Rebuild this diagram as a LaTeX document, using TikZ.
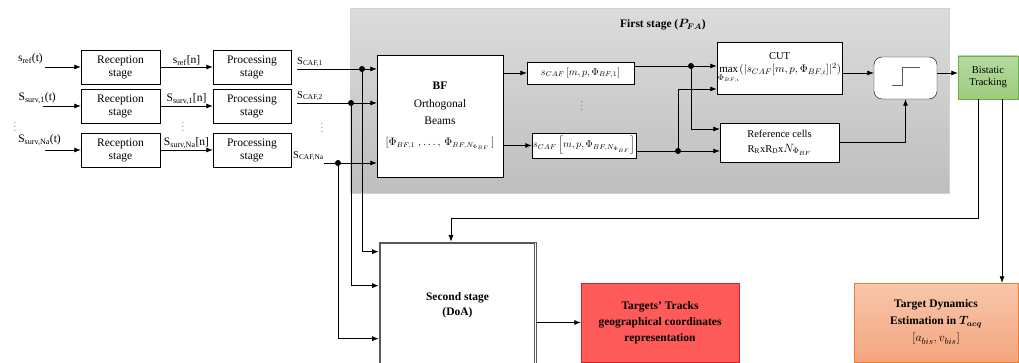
\documentclass[tikz,border=0pt]{standalone}
\usepackage{fontspec}
\setmainfont{Liberation Serif}
\usepackage{amsmath,amssymb}
\usepackage{tikz}
\usetikzlibrary{arrows.meta, positioning, fit, shapes.geometric}

\definecolor{stagetop}{RGB}{220,220,220}
\definecolor{stagebot}{RGB}{190,190,190}
\definecolor{tracktop}{RGB}{183,218,160}
\definecolor{trackbot}{RGB}{156,204,124}
\definecolor{trackedge}{RGB}{112,173,71}
\definecolor{tgtred}{RGB}{255,90,90}
\definecolor{tgtedge}{RGB}{205,35,35}
\definecolor{dyntop}{RGB}{248,198,172}
\definecolor{dynbot}{RGB}{244,166,126}
\definecolor{dynedge}{RGB}{237,125,49}

\begin{document}
\begin{tikzpicture}[x=1pt, y=-1pt,
  box/.style={draw, fill=white, minimum width=79pt, minimum height=34pt,
              align=center, inner sep=1pt, font=\fontsize{11.5}{13}\selectfont},
  smallbox/.style={box, font=\fontsize{10.5}{12}\selectfont},
  arrow/.style={-{Latex[length=6.5pt,width=5pt]}, line width=0.7pt},
  link/.style={line width=0.7pt},
  dot/.style={circle, fill, inner sep=0pt, minimum size=6pt},
  lbl/.style={inner sep=0pt, font=\fontsize{11.5}{13}\selectfont},
  caf/.style={inner sep=0pt, font=\fontsize{10.5}{12}\selectfont},
  vdot/.style={inner sep=0pt, font=\fontsize{7}{8}\selectfont}
]
  \useasboundingbox (0,0) rectangle (1019,363);
  \clip (0,0) rectangle (1019,363);

  % first stage background
  \node[draw=gray!35, top color=stagetop, bottom color=stagebot,
        minimum width=599pt, minimum height=185pt, anchor=north west] (stage1) at (350,8) {};
  \node[font=\bfseries\fontsize{11.5}{13}\selectfont] (title) at (663,25)
        {First stage ($\boldsymbol{P_{FA}}$)};

  % reception and processing
  \node[box] (rec1) at (120.5,67) {Reception\\stage};
  \node[box] (rec2) at (120.5,106) {Reception\\stage};
  \node[box] (rec3) at (120.5,150) {Reception\\stage};
  \node[box, minimum width=78pt] (proc1) at (252,67) {Processing\\stage};
  \node[box, minimum width=78pt] (proc2) at (252,106) {Processing\\stage};
  \node[box, minimum width=78pt] (proc3) at (252,150) {Processing\\stage};

  % inputs
  \node[lbl, anchor=east] (sref) at (43,59) {s\textsubscript{ref}(t)};
  \node[lbl, anchor=east] (ssurv1) at (56,98) {S\textsubscript{surv,1}(t)};
  \node[lbl, anchor=east] (ssurvn) at (61,140) {S\textsubscript{surv,Na}(t)};
  \node[vdot] (d1) at (15,124) {$\vdots$};
  \coordinate (in1) at (45,67);
  \coordinate (in2) at (43,106);
  \coordinate (in3) at (45,150);
  \draw[arrow] (in1) -- (rec1);
  \draw[arrow] (in2) -- (rec2);
  \draw[arrow] (in3) -- (rec3);

  \draw[arrow] (rec1) -- (proc1) node[midway, above=1pt, lbl] {s\textsubscript{ref}[n]};
  \draw[arrow] (rec2) -- (proc2) node[midway, above=1pt, lbl] {S\textsubscript{surv,1}[n]};
  \draw[arrow] (rec3) -- (proc3) node[midway, above=1pt, lbl] {S\textsubscript{surv,Na}[n]};
  \node[vdot] (d2) at (183,124) {$\vdots$};

  % CAF outputs
  \node[caf, anchor=south west] (caf1) at (297,67) {S\textsubscript{CAF,1}};
  \node[caf, anchor=south west] (caf2) at (297,101) {S\textsubscript{CAF,2}};
  \node[caf, anchor=south west] (cafn) at (293,161) {S\textsubscript{CAF,Na}};
  \node[vdot] (d3) at (322,125) {$\vdots$};

  % beamforming
  \node[box, minimum width=126pt, minimum height=122pt] (bf) at (440,116)
        {\textbf{BF}\\[5pt] Orthogonal\\[4pt] Beams\\[8pt]
         {\fontsize{10.5}{12}\selectfont$[\Phi_{BF,1}\;, \dots ,\,\Phi_{BF,N_{\Phi_{BF}}}\,]$}};

  \node[dot] (j1) at (362,69) {};
  \node[dot] (j2) at (351,103) {};
  \node[dot] (j3) at (338,163) {};
  \draw[arrow] (caf1.south west |- j1) -- (j1 -| bf.west);
  \draw[arrow] (caf2.south west |- j2) -- (j2 -| bf.west);
  \draw[arrow] (cafn.south east |- j3) -- (j3 -| bf.west);

  % second stage
  \node[draw=black!65, line width=0.7pt, fill=white,
        minimum width=157pt, minimum height=126pt, align=center,
        font=\bfseries\fontsize{11.5}{15}\selectfont] (ss) at (457.5,305)
        {Second stage\\(DoA)};
  \draw[black!65, line width=0.7pt] ([xshift=2pt,yshift=-2pt]ss.north west)
        rectangle ([xshift=-2pt,yshift=2pt]ss.south east);
  \draw[arrow] (j1) |- ([yshift=-10pt]ss.north west);
  \draw[arrow] (j2) |- ([yshift=-44pt]ss.north west);
  \draw[arrow] (j3) |- ([yshift=-97pt]ss.north west);

  % beam outputs
  \node[box, minimum width=107pt, minimum height=22pt, font=\fontsize{10}{11}\selectfont] (sc1)
        at (580.5,73) {$s_{CAF}\left[m,p,\Phi_{BF,1}\right]$};
  \node[box, minimum width=104pt, minimum height=25pt, font=\fontsize{10}{11}\selectfont] (scn)
        at (584,145.5) {$s_{CAF}\left[m,p,\Phi_{BF,N_{\Phi_{BF}}}\right]$};
  \node[vdot] (d4) at (582,103) {$\vdots$};
  \draw[arrow] (bf.east |- sc1) -- (sc1.west);
  \draw[arrow] (bf.east |- scn) -- (scn.west);

  % detection
  \node[smallbox, minimum width=119pt, minimum height=52pt] (cut) at (779.5,68)
        {CUT\\[1pt] {\fontsize{11}{12}\selectfont$\max\limits_{\Phi_{BF,i}}(|s_{CAF}[m,p,\Phi_{BF,i}]|^2)$}};
  \node[smallbox, minimum width=119pt, minimum height=39pt] (ref) at (779.5,142.5)
        {Reference cells\\[3pt] R\textsubscript{R}xR\textsubscript{D}x{\fontsize{12}{12}\selectfont$N_{\Phi_{BF}}$}};

  \node[dot] (j4) at (691,66) {};
  \node[dot] (j5) at (678,151) {};
  \draw[link] ([yshift=7pt]sc1.east) -- (j4);
  \draw[link] ([yshift=-5.5pt]scn.east) -- (j5);
  \draw[arrow] (j4) -- (j4 -| cut.west);
  \draw[arrow] (j4) |- ([yshift=13.5pt]ref.west);
  \draw[arrow] (j5) -- (j5 -| ref.west);
  \draw[arrow] (j5) |- ([yshift=-21pt]cut.west);

  % threshold
  \node[draw, fill=white, rounded corners=8pt, minimum width=63pt, minimum height=42pt] (th)
        at (905.5,78) {};
  \draw[gray!70!black, line width=0.7pt] ([xshift=-13.5pt,yshift=-7pt]th.center)
        -- ++(10,0) -- ++(0,-18) -- ++(18,0);
  \draw[arrow] ([yshift=-5pt]cut.east) -- ([yshift=-5pt]cut.east -| th.west);
  \draw[arrow] (ref.east) -| (th.south);

  % tracking
  \node[smallbox, draw=trackedge, top color=tracktop, bottom color=trackbot,
        minimum width=60pt, minimum height=43pt] (bt) at (988,77.5) {Bistatic\\Tracking};
  \draw[arrow] ([yshift=5pt]th.east) -- ([yshift=5pt]th.east -| bt.west);

  % outputs
  \node[draw=tgtedge, fill=tgtred, minimum width=158pt, minimum height=79pt, align=center,
        font=\bfseries\fontsize{11.5}{16}\selectfont] (red) at (660,322.5)
        {Targets’ Tracks\\geographical coordinates\\representation};
  \node[draw=dynedge, top color=dyntop, bottom color=dynbot, minimum width=164pt,
        minimum height=79pt, align=center, font=\fontsize{11.5}{17}\selectfont] (td)
        at (936,322.5)
        {\textbf{Target Dynamics}\\\textbf{Estimation in $\boldsymbol{T_{acq}}$}\\{\fontsize{13}{14}\selectfont$[a_{bis},v_{bis}]$}};

  \coordinate (fb) at (451,218);
  \draw[arrow] ([xshift=-10pt]bt.south) |- (fb) -- (fb |- ss.north);
  \draw[arrow] ([xshift=14pt]bt.south) -- ([xshift=14pt]bt.south |- td.north);
  \draw[arrow] (ss.east |- red) -- (red.west);
\end{tikzpicture}
\end{document}
